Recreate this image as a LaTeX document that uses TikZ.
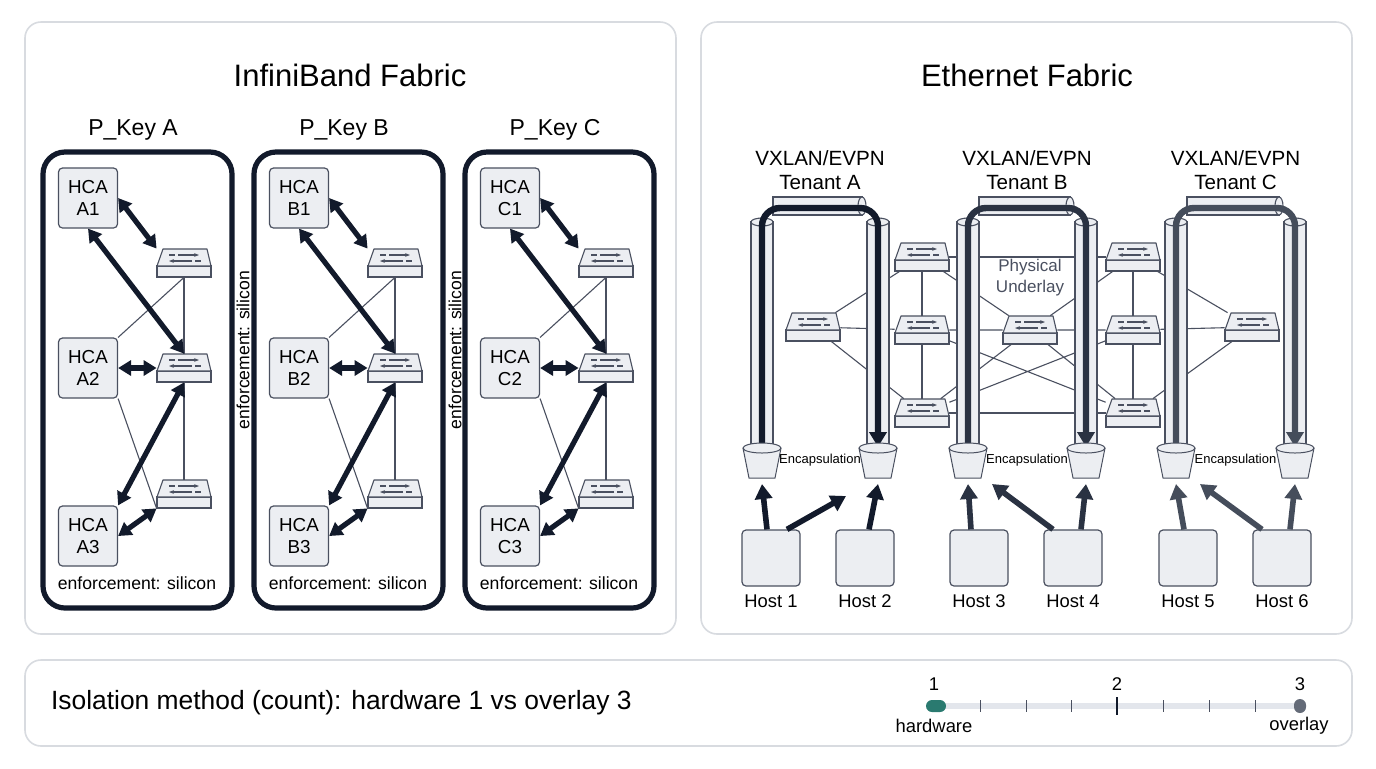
\documentclass[tikz,border=0pt]{standalone}
\usepackage{fontspec}
\setmainfont{Liberation Sans}
\usetikzlibrary{calc,positioning,arrows.meta}

\definecolor{ink}{HTML}{121A2B}
\definecolor{tenB}{HTML}{2A3242}
\definecolor{tenC}{HTML}{454D5B}
\definecolor{wire}{HTML}{4A5060}
\definecolor{boxfill}{HTML}{ECEEF2}
\definecolor{panel}{HTML}{D8DBE0}
\definecolor{track}{HTML}{E3E6EC}
\definecolor{teal}{HTML}{2A7A70}
\definecolor{dotgray}{HTML}{646B78}

\tikzset{
  panelbox/.style={draw=panel, line width=0.8pt, rounded corners=8pt, fill=white},
  pkey/.style={draw=ink, line width=2.6pt, rounded corners=11pt},
  hca/.style={draw=wire, fill=boxfill, line width=0.6pt, rounded corners=2pt, minimum width=29.5pt, minimum height=30pt, align=center, font=\fontsize{9.4}{11}\selectfont, inner sep=0pt},
  swnode/.style={minimum width=27pt, minimum height=14pt, inner sep=0pt},
  host/.style={draw=wire, fill=boxfill, line width=0.6pt, rounded corners=2pt, minimum width=29pt, minimum height=28pt},
  thin/.style={draw=wire, line width=0.55pt},
  bi/.style={ink, line width=2.6pt, {Triangle[length=6.5pt,width=7.5pt]}-{Triangle[length=6.5pt,width=7.5pt]}},
  up/.style={line width=2.8pt, -{Triangle[length=7.5pt,width=8.5pt]}},
  tunnel/.style={line width=3.2pt, rounded corners=9pt, -{Triangle[length=7.5pt,width=8.5pt]}},
  lbl/.style={font=\fontsize{9.2}{11}\selectfont},
  switch/.pic={
    \draw[wire, fill=boxfill, line width=0.55pt] (-27,3) rectangle (27,14);
    \draw[wire, fill=boxfill, line width=0.55pt, line join=round] (-27,3) -- (-21,-14) -- (23,-14) -- (27,3) -- cycle;
    \draw[wire, line width=0.6pt, -{Stealth[length=2.5pt]}] (-6,-8) -- (15,-8);
    \draw[wire, line width=0.6pt, -{Stealth[length=2.5pt]}] (8,-2) -- (-15,-2);
    \draw[wire, line width=0.6pt] (-15,-8) -- (-9,-8) (11,-2) -- (17,-2);
  },
  cup/.pic={
    \draw[wire, fill=boxfill, line width=0.5pt] (-19,0) -- (-13,30) -- (13,30) -- (19,0);
    \draw[wire, fill=boxfill, line width=0.5pt] (0,0) ellipse [x radius=19, y radius=5];
  }
}

\begin{document}
\begin{tikzpicture}[x=0.5pt, y=-0.5pt]
  \useasboundingbox (0,0) rectangle (1376,768);
  \fill[white] (0,0) rectangle (1376,768);

  % panels
  \draw[panelbox] (25,22) rectangle (676,634);
  \draw[panelbox] (701,22) rectangle (1352,634);
  \draw[panelbox] (25,660) rectangle (1352,746);
  \node[font=\fontsize{15.5}{18}\selectfont] (ibtitle) at (350,75) {InfiniBand Fabric};
  \node[font=\fontsize{15.5}{18}\selectfont] (ethtitle) at (1027,75) {Ethernet Fabric};

  % partitions
  \foreach \p [count=\i from 0] in {A,B,C}{
    \pgfmathsetmacro\ox{211*\i}
    \node[font=\fontsize{11.5}{13}\selectfont] (key\p) at (133+\ox,130) {P\_Key \p};
    \draw[pkey] (43+\ox,152) rectangle (232+\ox,608);
    \node[hca] (hca\p1) at (88+\ox,198) {HCA\\\p1};
    \node[hca] (hca\p2) at (88+\ox,368) {HCA\\\p2};
    \node[hca] (hca\p3) at (88+\ox,536) {HCA\\\p3};
    \node[swnode] (sw\p1) at (184+\ox,263) {};
    \node[swnode] (sw\p2) at (184+\ox,368) {};
    \node[swnode] (sw\p3) at (184+\ox,494) {};
    \draw[thin] (sw\p1) -- (sw\p2) -- (sw\p3);
    \draw[thin] (hca\p2.north east) -- (sw\p1.south);
    \draw[thin] (hca\p2.south east) -- (sw\p3.south west);
    \foreach \s in {1,2,3}{ \pic at (sw\p\s) {switch}; }
    \draw[bi] (hca\p1.east) -- (sw\p1.north west);
    \draw[bi] (hca\p1.south) -- (sw\p2.north);
    \draw[bi] (hca\p2.east) -- (sw\p2.west);
    \draw[bi] (sw\p2.south) -- (hca\p3.north east);
    \draw[bi] (hca\p3.east) -- (sw\p3.south west);
    \node[font=\fontsize{8.8}{10}\selectfont] (enf\p) at (137+\ox,583) {enforcement: silicon};
  }
  \node[font=\fontsize{8.8}{10}\selectfont, rotate=90] (sideAB) at (243,350) {enforcement: silicon};
  \node[font=\fontsize{8.8}{10}\selectfont, rotate=90] (sideBC) at (455,350) {enforcement: silicon};

  % underlay switches
  \node[swnode] (swL) at (813,327) {};
  \node[swnode] (s1a) at (922,257) {};
  \node[swnode] (s1b) at (922,330) {};
  \node[swnode] (s1c) at (922,413) {};
  \node[swnode] (swM) at (1030,330) {};
  \node[swnode] (s2a) at (1133,257) {};
  \node[swnode] (s2b) at (1133,330) {};
  \node[swnode] (s2c) at (1133,413) {};
  \node[swnode] (swR) at (1252,327) {};
  \draw[thin] (s1a) -- (s1b) -- (s1c) (s2a) -- (s2b) -- (s2c);
  \draw[thin] (s1a) -- (s2a) (s1c) -- (s2c);
  \draw[thin] (swL) -- (s1b) -- (swM) -- (s2b) -- (swR);
  \draw[thin] (swL) -- (s1a) (swL) -- (s1c) (s1a) -- (swM) (swM) -- (s2a);
  \draw[thin] (s1b) -- (s2c) (s1c) -- (s2b) (swM) -- (s2c) (swM) -- (s1c);
  \draw[thin] (s2a) -- (swR) (s2c) -- (swR);
  \foreach \n in {swL,s1a,s1b,s1c,swM,s2a,s2b,s2c,swR}{ \pic at (\n) {switch}; }
  \node[font=\fontsize{8.5}{10.5}\selectfont, align=center, text=wire, fill=white, inner sep=1pt] (under) at (1030,278) {Physical\\Underlay};

  % tenants
  \foreach \t/\xl/\xr/\col [count=\i] in {A/762/878/ink, B/968/1086/tenB, C/1176/1295/tenC}{
    \pgfmathsetmacro\xm{(\xl+\xr)/2}
    \node[font=\fontsize{10.3}{12}\selectfont, align=center] (ten\t) at (\xm,170) {VXLAN/EVPN\\Tenant \t};
    \foreach \x in {\xl,\xr}{
      \draw[wire, fill=boxfill, line width=0.55pt] (\x-11,222) rectangle (\x+11,448);
      \draw[wire, fill=boxfill, line width=0.55pt] (\x,222) ellipse [x radius=11, y radius=4];
    }
    \draw[wire, fill=boxfill, line width=0.55pt] (\xl+11,197) rectangle (\xr-16,215);
    \draw[wire, fill=boxfill, line width=0.55pt] (\xr-16,206) ellipse [x radius=4, y radius=9];
    \coordinate (in\t) at (\xl,452);
    \coordinate (top\t) at (\xm,208);
    \coordinate (out\t) at (\xr,447);
    \draw[tunnel, \col] (in\t) |- (top\t) -| (out\t);
    \pic at (\xl,448) {cup};
    \pic at (\xr,448) {cup};
    \coordinate (bk\t1) at (\xl,484);
    \coordinate (bk\t2) at (\xr,484);
    \node[font=\fontsize{6.5}{8}\selectfont] (enc\t) at (\xm,460) {Encapsulation};
  }

  % hosts
  \foreach \h/\x in {1/771,2/865,3/979,4/1073,5/1188,6/1282}{
    \node[host] (host\h) at (\x,558) {};
    \node[lbl] (hl\h) at (\x,601) {Host \h};
  }
  \draw[up, ink] ([xshift=-2]host1.north) -- (bkA1);
  \draw[up, ink] ([xshift=8]host1.north) -- ([xshift=-16,yshift=-6]bkA2);
  \draw[up, ink] ([xshift=2]host2.north) -- (bkA2);
  \draw[up, tenB] ([xshift=-4]host3.north) -- (bkB1);
  \draw[up, tenB] ([xshift=-10]host4.north) -- ([xshift=12]bkB1);
  \draw[up, tenB] ([xshift=4]host4.north) -- (bkB2);
  \draw[up, tenC] ([xshift=-2]host5.north) -- (bkC1);
  \draw[up, tenC] ([xshift=-10]host6.north) -- ([xshift=12]bkC1);
  \draw[up, tenC] ([xshift=4]host6.north) -- (bkC2);

  % summary bar
  \node[anchor=west, font=\fontsize{13.2}{15}\selectfont] (summary) at (44,703) {Isolation method (count): hardware 1 vs overlay 3};
  \draw[track, line width=3pt, line cap=round] (934,706) -- (1300,706);
  \foreach \x in {980,1026,1071,1163,1209,1255}{ \draw[wire, line width=0.5pt] (\x,700) -- (\x,712); }
  \draw[ink, line width=0.7pt] (1117,697) -- (1117,715);
  \fill[teal, rounded corners=3pt] (926,700) rectangle (946,712);
  \fill[dotgray, rounded corners=3pt] (1294,699) rectangle (1306,713);
  \node[lbl] (n1) at (934,684) {1};
  \node[lbl] (n2) at (1117,684) {2};
  \node[lbl] (n3) at (1300,684) {3};
  \node[lbl] (hw) at (934,726) {hardware};
  \node[lbl] (ov) at (1299,726) {overlay};
\end{tikzpicture}
\end{document}
